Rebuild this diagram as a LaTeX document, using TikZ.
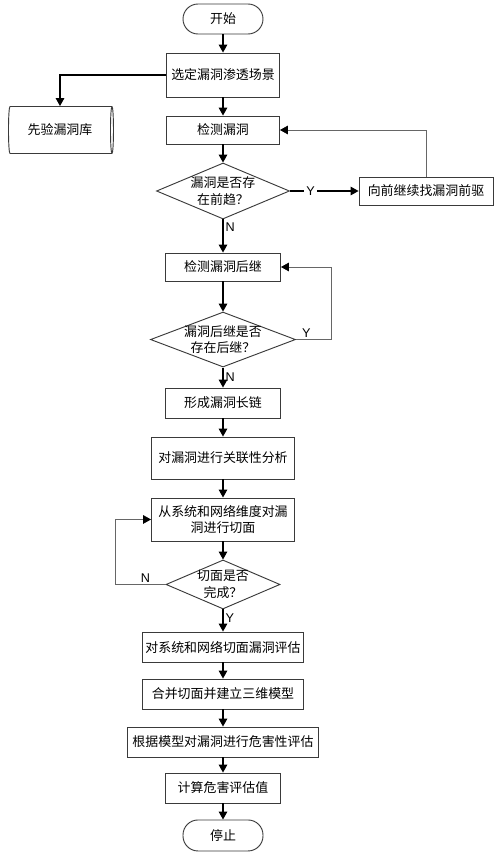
\documentclass[tikz,border=0pt]{standalone}
\usepackage{fontspec}
\setmainfont{Noto Sans CJK SC}
\newfontfamily\yesno{Liberation Sans}
\usepackage{tikz}
\usetikzlibrary{arrows.meta,positioning,shapes.geometric}
\definecolor{edge}{HTML}{3A3A3A}
\definecolor{loopgray}{HTML}{666666}

\begin{document}
\begin{tikzpicture}[
  on grid,
  every node/.style={font=\fontsize{9.7pt}{12.5pt}\selectfont},
  block/.style={
    rectangle,
    draw=edge,
    line width=0.7pt,
    align=center,
    inner sep=0pt,
    minimum height=22.5pt
  },
  terminal/.style={block,rounded corners=11.25pt,minimum width=60pt},
  decision/.style={
    diamond,
    draw=edge,
    line width=0.7pt,
    align=center,
    inner sep=-2pt
  },
  store/.style={
    cylinder,
    draw=edge,
    line width=0.7pt,
    aspect=0.25,
    inner sep=0pt,
    minimum width=35.25pt,
    minimum height=78.75pt
  },
  arrow/.style={-{Triangle[length=6pt,width=6.5pt]},line width=0.8pt,draw=black},
  back/.style={-{Triangle[length=6pt,width=6.5pt,color=black]},line width=0.6pt,draw=loopgray},
  tag/.style={font=\fontsize{9.5pt}{11pt}\yesno,inner sep=1.5pt}
]
\useasboundingbox (0,0) rectangle (375pt,-642pt);
% main column (centre to centre)
\node[terminal] (start) at (167.25pt,-14.25pt) {开始};
\node[block,below=42pt of start,minimum width=84.75pt,minimum height=33pt] (scene) {选定漏洞渗透场景};
\node[block,below=41.25pt of scene,minimum width=84.75pt,minimum height=21pt] (detect) {检测漏洞};
\node[decision,below=45.75pt of detect,minimum width=99.75pt,minimum height=42pt,shape aspect=2.4] (pre) {漏洞是否存\\在前趋？};
\node[block,right=152.25pt of pre,minimum width=100.5pt,minimum height=21pt] (seek) {向前继续找漏洞前驱};
\node[store,left=122.25pt of detect] (library) {先验漏洞库};
\node[block,below=57pt of pre,minimum width=86.25pt,minimum height=21pt] (succ) {检测漏洞后继};
\node[decision,below=54.4pt of succ,minimum width=108.75pt,minimum height=41.25pt,shape aspect=2.6] (post) {漏洞后继是否\\存在后继？};
\node[block,below=47.6pt of post,minimum width=86.25pt] (chain) {形成漏洞长链};
\node[block,below=41.25pt of chain,minimum width=107.25pt,minimum height=31.5pt] (relate) {对漏洞进行关联性分析};
\node[block,below=46.1pt of relate,minimum width=107.25pt,minimum height=32.25pt] (slice) {从系统和网络维度对漏\\洞进行切面};
\node[decision,below=48.75pt of slice,minimum width=85.5pt,minimum height=36.75pt,shape aspect=2.3] (done) {切面是否\\完成？};
\node[block,below=46.9pt of done,minimum width=120.75pt] (assess) {对系统和网络切面漏洞评估};
\node[block,below=35.25pt of assess,minimum width=120.75pt] (merge) {合并切面并建立三维模型};
\node[block,below=36pt of merge,minimum width=143.25pt] (harm) {根据模型对漏洞进行危害性评估};
\node[block,below=34.5pt of harm,minimum width=86.25pt] (score) {计算危害评估值};
\node[terminal,below=35.6pt of score,minimum height=23.25pt] (stop) {停止};
% connectors
\draw[arrow] (start) -- (scene);
\draw[arrow] (scene) -- (detect);
\draw[arrow] (scene.west) -| (library.north);
\draw[arrow] (detect) -- (pre);
\draw[arrow] (pre) -- node[tag,fill=white,pos=0.3] {Y} (seek);
\draw[back] (seek.north) |- (detect.east);
\draw[arrow] (pre) -- node[tag,right,pos=0.24] {N} (succ);
\draw[arrow] (succ) -- (post);
\draw[back] (post.east) -- node[tag,above,pos=0.3] {Y} ++(26.25pt,0) |- (succ.east);
\draw[arrow] (post) -- node[tag,right,pos=0.5] {N} (chain);
\draw[arrow] (chain) -- (relate);
\draw[arrow] (relate) -- (slice);
\draw[arrow] (slice) -- (done);
\draw[back] (done.west) -- node[tag,above,pos=0.4] {N} ++(-37.5pt,0) |- (slice.west);
\draw[arrow] (done) -- node[tag,right,pos=0.4] {Y} (assess);
\draw[arrow] (assess) -- (merge);
\draw[arrow] (merge) -- (harm);
\draw[arrow] (harm) -- (score);
\draw[arrow] (score) -- (stop);
\end{tikzpicture}
\end{document}
